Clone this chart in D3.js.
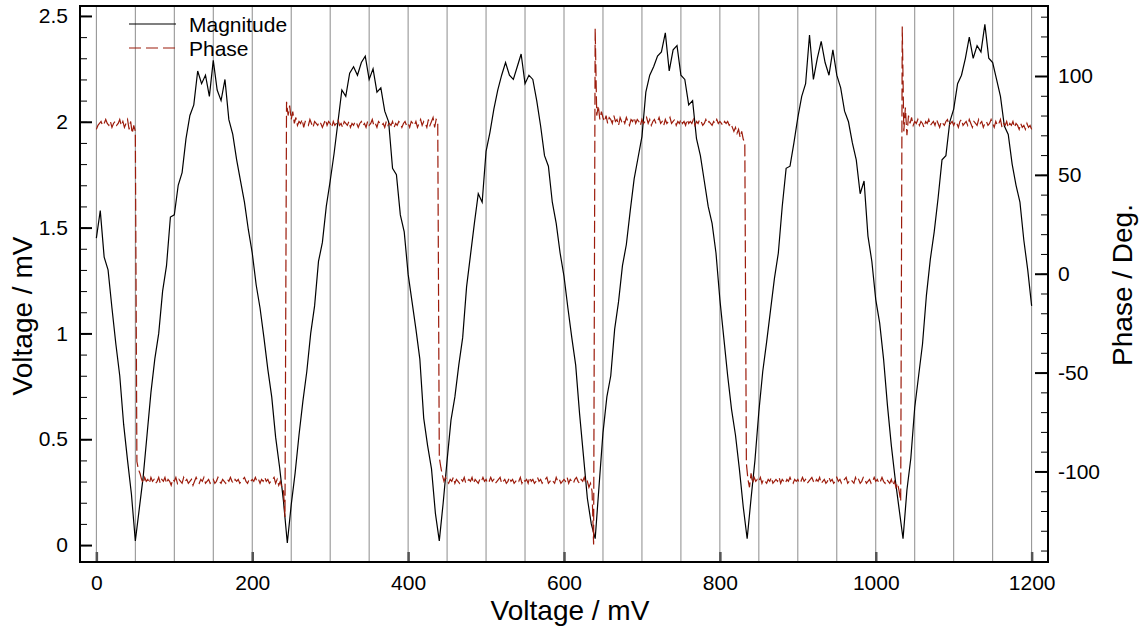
<!DOCTYPE html>
<html>
<head>
<meta charset="utf-8">
<script src="https://cdn.jsdelivr.net/npm/d3@7"></script>
<style>
  body { margin: 0; background: #fff; }
  svg { font-family: "Liberation Sans", Arial, Helvetica, sans-serif; }
</style>
</head>
<body>
<svg id="chart" width="1145" height="631"></svg>
<script>
// magnitude, mV, sampled every 5 mV from 0 to 1200
const magStep = 5;
const magnitude = [
  1.45, 1.58, 1.36, 1.30, 1.12, 0.95, 0.80, 0.57, 0.40, 0.24,
  0.02, 0.17, 0.32, 0.52, 0.72, 0.88, 1.00, 1.20, 1.32, 1.55,
  1.56, 1.70, 1.76, 1.92, 2.03, 2.08, 2.24, 2.18, 2.22, 2.12,
  2.29, 2.15, 2.10, 2.20, 2.01, 1.94, 1.82, 1.72, 1.62, 1.49,
  1.38, 1.23, 1.12, 0.98, 0.83, 0.70, 0.51, 0.37, 0.21, 0.01,
  0.19, 0.34, 0.52, 0.68, 0.82, 1.00, 1.13, 1.34, 1.43, 1.60,
  1.72, 1.85, 2.00, 2.15, 2.12, 2.23, 2.26, 2.22, 2.28, 2.31,
  2.20, 2.25, 2.14, 2.16, 2.05, 2.00, 1.78, 1.75, 1.56, 1.48,
  1.28, 1.15, 1.02, 0.88, 0.60, 0.47, 0.36, 0.15, 0.02, 0.20,
  0.40, 0.59, 0.70, 0.85, 0.98, 1.22, 1.37, 1.52, 1.66, 1.62,
  1.86, 1.95, 2.06, 2.15, 2.22, 2.28, 2.22, 2.20, 2.26, 2.32,
  2.18, 2.22, 2.20, 2.10, 1.98, 1.84, 1.79, 1.62, 1.52, 1.38,
  1.27, 1.12, 0.98, 0.85, 0.62, 0.42, 0.22, 0.10, 0.03, 0.28,
  0.53, 0.70, 0.80, 1.02, 1.15, 1.32, 1.42, 1.58, 1.73, 1.83,
  1.93, 2.14, 2.22, 2.26, 2.31, 2.33, 2.42, 2.24, 2.34, 2.36,
  2.22, 2.20, 2.08, 2.10, 1.92, 1.84, 1.72, 1.60, 1.52, 1.38,
  1.16, 0.98, 0.80, 0.64, 0.52, 0.36, 0.18, 0.03, 0.22, 0.40,
  0.63, 0.82, 0.96, 1.11, 1.26, 1.38, 1.60, 1.78, 1.79, 1.90,
  2.02, 2.12, 2.18, 2.41, 2.20, 2.30, 2.38, 2.28, 2.22, 2.34,
  2.22, 2.16, 2.05, 2.00, 1.90, 1.82, 1.66, 1.72, 1.46, 1.34,
  1.16, 1.05, 0.88, 0.66, 0.47, 0.31, 0.17, 0.03, 0.26, 0.41,
  0.65, 0.80, 0.95, 1.18, 1.35, 1.48, 1.64, 1.82, 1.84, 2.00,
  2.06, 2.18, 2.22, 2.30, 2.40, 2.30, 2.36, 2.33, 2.46, 2.30,
  2.28, 2.20, 2.12, 1.98, 1.94, 1.80, 1.70, 1.62, 1.44, 1.30,
  1.13
];

// phase, degrees, sampled every 2 mV from 0 to 1200 (one row = 50 mV)
const phaseStep = 2;
const phase = [
  73, 75, 76, 77, 75, 76, 78, 76, 75, 77, 74, 76, 77, 75, 76, 78, 75, 77, 74, 76, 78, 73, 77, 71, 75,
  72, -95, -99, -101, -104, -106, -103, -105, -104, -106, -103, -105, -104, -106, -105, -103, -106, -104, -105, -103, -106, -104, -105, -107, -104,
  -105, -103, -106, -104, -105, -106, -103, -105, -104, -106, -105, -104, -107, -105, -103, -105, -106, -104, -105, -103, -106, -105, -104, -106, -105,
  -104, -106, -105, -103, -105, -106, -104, -105, -106, -104, -105, -103, -105, -106, -104, -105, -104, -106, -105, -104, -103, -105, -106, -104, -105,
  -104, -105, -103, -105, -104, -106, -104, -105, -103, -105, -104, -106, -105, -104, -103, -106, -104, -107, -105, -108, -109, -123, 87, 80, 85,
  78, 82, 76, 79, 75, 77, 76, 78, 74, 77, 76, 75, 78, 76, 74, 77, 76, 75, 77, 76, 74, 76, 78, 75, 77,
  76, 74, 77, 75, 76, 78, 75, 76, 74, 77, 76, 75, 77, 74, 76, 75, 77, 76, 74, 76, 77, 75, 76, 74, 77,
  75, 76, 78, 75, 76, 74, 77, 76, 75, 76, 74, 77, 75, 76, 75, 77, 74, 76, 75, 77, 76, 74, 76, 77, 75,
  76, 74, 77, 76, 75, 77, 74, 76, 78, 75, 77, 76, 74, 78, 75, 77, 79, 74, 78, 77, -93, -98, -102, -105, -103,
  -105, -106, -104, -105, -103, -106, -104, -105, -106, -104, -105, -103, -106, -105, -104, -105, -103, -106, -104, -105, -106, -104, -105, -103, -105,
  -104, -106, -105, -103, -105, -104, -106, -105, -104, -103, -106, -105, -104, -106, -105, -103, -105, -104, -106, -105, -104, -105, -103, -106, -104,
  -105, -104, -106, -103, -105, -104, -106, -105, -103, -105, -104, -106, -105, -104, -103, -106, -105, -104, -105, -106, -103, -105, -104, -106, -105,
  -104, -105, -103, -106, -104, -105, -106, -104, -103, -105, -106, -104, -105, -103, -106, -105, -108, -106, -110, -137, 124, 80, 85, 78, 82,
  79, 77, 80, 76, 79, 78, 76, 80, 77, 78, 75, 79, 77, 78, 76, 79, 77, 75, 78, 77, 79, 76, 78, 77, 75,
  78, 76, 77, 79, 76, 78, 75, 77, 78, 76, 77, 79, 76, 77, 75, 78, 76, 77, 79, 76, 77, 78, 75, 77, 76,
  78, 76, 77, 75, 78, 76, 77, 76, 78, 75, 77, 76, 78, 77, 75, 76, 78, 76, 77, 76, 75, 77, 76, 78, 76,
  77, 76, 75, 77, 76, 77, 75, 76, 74, 72, 74, 71, 73, 69, 72, 68, 66, -96, -104, -108, -101, -106, -103, -105, -104,
  -105, -103, -106, -104, -105, -106, -104, -105, -103, -106, -105, -104, -105, -103, -106, -104, -105, -106, -104, -105, -103, -105, -106, -104, -105,
  -104, -106, -105, -103, -105, -104, -106, -105, -104, -103, -105, -106, -104, -105, -103, -106, -105, -104, -106, -105, -103, -105, -104, -106, -105,
  -103, -105, -104, -106, -105, -104, -103, -106, -105, -104, -105, -106, -103, -105, -104, -106, -105, -103, -104, -106, -105, -104, -106, -105, -103,
  -105, -104, -106, -105, -103, -105, -106, -104, -105, -106, -104, -107, -105, -108, -106, -110, -115, 125, 72, 84, 70, 80, 76, 79, 75,
  77, 76, 78, 75, 77, 76, 74, 77, 76, 78, 75, 76, 77, 75, 78, 76, 74, 77, 76, 75, 77, 78, 75, 76, 77,
  75, 77, 76, 74, 77, 78, 75, 76, 77, 75, 78, 76, 74, 77, 76, 75, 78, 76, 77, 74, 76, 77, 75, 76, 78,
  76, 74, 77, 75, 76, 78, 74, 76, 75, 77, 74, 76, 75, 77, 74, 76, 75, 73, 76, 74, 75, 73, 76, 74, 75,
  73
];

const xTicks = [0, 200, 400, 600, 800, 1000, 1200];
const gridLines = d3.range(0, 1201, 50);
const magTicks = [0, 0.5, 1, 1.5, 2, 2.5];
const magMinor = d3.range(0, 26).map(i => i / 10);
const phaseTicks = [-100, -50, 0, 50, 100];
const phaseMinor = d3.range(-140, 131, 10);

const svg = d3.select("#chart");
const margin = { top: 6, left: 80, right: 97, bottom: 69 };
const width = 1145 - margin.left - margin.right;
const height = 631 - margin.top - margin.bottom;

const x = d3.scaleLinear().domain([-21, 1221]).range([0, width]);
const yMag = d3.scaleLinear().domain([-0.08, 2.547]).range([height, 0]);
const yPh = d3.scaleLinear().domain([-145.8, 135.4]).range([height, 0]);

const g = svg.append("g").attr("transform", `translate(${margin.left},${margin.top})`);

g.append("clipPath").attr("id", "clip")
  .append("rect").attr("width", width).attr("height", height);

// vertical grid
g.selectAll("line.grid")
  .data(gridLines)
  .join("line")
  .attr("class", "grid")
  .attr("x1", d => x(d)).attr("x2", d => x(d))
  .attr("y1", 0).attr("y2", height)
  .attr("stroke", "#8c8c8c")
  .attr("stroke-width", 1);

// bottom ticks
const xAxis = g.append("g")
  .attr("transform", `translate(0,${height})`)
  .call(d3.axisBottom(x).tickValues(xTicks).tickSize(-10).tickPadding(13).tickFormat(d => String(d)));
xAxis.select(".domain").remove();
xAxis.selectAll(".tick line").attr("stroke", "#555").attr("stroke-width", 2.5);
xAxis.selectAll(".tick text").attr("font-size", 21).attr("fill", "#000");

// left axis
const yAxisMinor = g.append("g")
  .call(d3.axisLeft(yMag).tickValues(magMinor).tickSize(-7).tickFormat(""));
yAxisMinor.select(".domain").remove();
yAxisMinor.selectAll(".tick line").attr("stroke", "#000").attr("stroke-width", 1);

const yAxis = g.append("g")
  .call(d3.axisLeft(yMag).tickValues(magTicks).tickSize(-12).tickPadding(12).tickFormat(d => String(d)));
yAxis.select(".domain").remove();
yAxis.selectAll(".tick line").attr("stroke", "#000").attr("stroke-width", 2);
yAxis.selectAll(".tick text").attr("font-size", 21).attr("fill", "#000");

// right axis
const yPhMinorAxis = g.append("g")
  .attr("transform", `translate(${width},0)`)
  .call(d3.axisRight(yPh).tickValues(phaseMinor).tickSize(-7).tickFormat(""));
yPhMinorAxis.select(".domain").remove();
yPhMinorAxis.selectAll(".tick line").attr("stroke", "#000").attr("stroke-width", 1);

const yPhAxis = g.append("g")
  .attr("transform", `translate(${width},0)`)
  .call(d3.axisRight(yPh).tickValues(phaseTicks).tickSize(-13).tickPadding(10).tickFormat(d => String(d)));
yPhAxis.select(".domain").remove();
yPhAxis.selectAll(".tick line").attr("stroke", "#000").attr("stroke-width", 2);
yPhAxis.selectAll(".tick text").attr("font-size", 21).attr("fill", "#000");

// data lines
const plot = g.append("g").attr("clip-path", "url(#clip)");

const magLine = d3.line()
  .x((d, i) => x(i * magStep))
  .y(d => yMag(d));

const phaseLine = d3.line()
  .x((d, i) => x(i * phaseStep))
  .y(d => yPh(d));

plot.append("path")
  .datum(magnitude)
  .attr("d", magLine)
  .attr("fill", "none")
  .attr("stroke", "#000")
  .attr("stroke-width", 1.2);

plot.append("path")
  .datum(phase)
  .attr("d", phaseLine)
  .attr("fill", "none")
  .attr("stroke", "#9c1c0c")
  .attr("stroke-width", 1.2)
  .attr("stroke-dasharray", "12,4");

// frame
g.append("rect")
  .attr("width", width).attr("height", height)
  .attr("fill", "none")
  .attr("stroke", "#000")
  .attr("stroke-width", 2);

// legend
const legend = g.append("g");
const legendItems = [
  { label: "Magnitude", color: "#000", dash: null },
  { label: "Phase", color: "#9c1c0c", dash: "12,5" }
];
legendItems.forEach((item, i) => {
  const ly = 18 + i * 24;
  legend.append("line")
    .attr("x1", 49).attr("x2", 96)
    .attr("y1", ly).attr("y2", ly)
    .attr("stroke", item.color)
    .attr("stroke-width", 1.2)
    .attr("stroke-dasharray", item.dash);
  legend.append("text")
    .attr("x", 109).attr("y", ly + 8)
    .attr("font-size", 21)
    .text(item.label);
});

// axis titles
svg.append("text")
  .attr("x", 570)
  .attr("y", 620)
  .attr("text-anchor", "middle")
  .attr("font-size", 28)
  .text("Voltage / mV");

svg.append("text")
  .attr("transform", "translate(32,316) rotate(-90)")
  .attr("text-anchor", "middle")
  .attr("font-size", 28)
  .text("Voltage / mV");

svg.append("text")
  .attr("transform", "translate(1132,285) rotate(-90)")
  .attr("text-anchor", "middle")
  .attr("font-size", 28)
  .text("Phase / Deg.");
</script>
</body>
</html>
